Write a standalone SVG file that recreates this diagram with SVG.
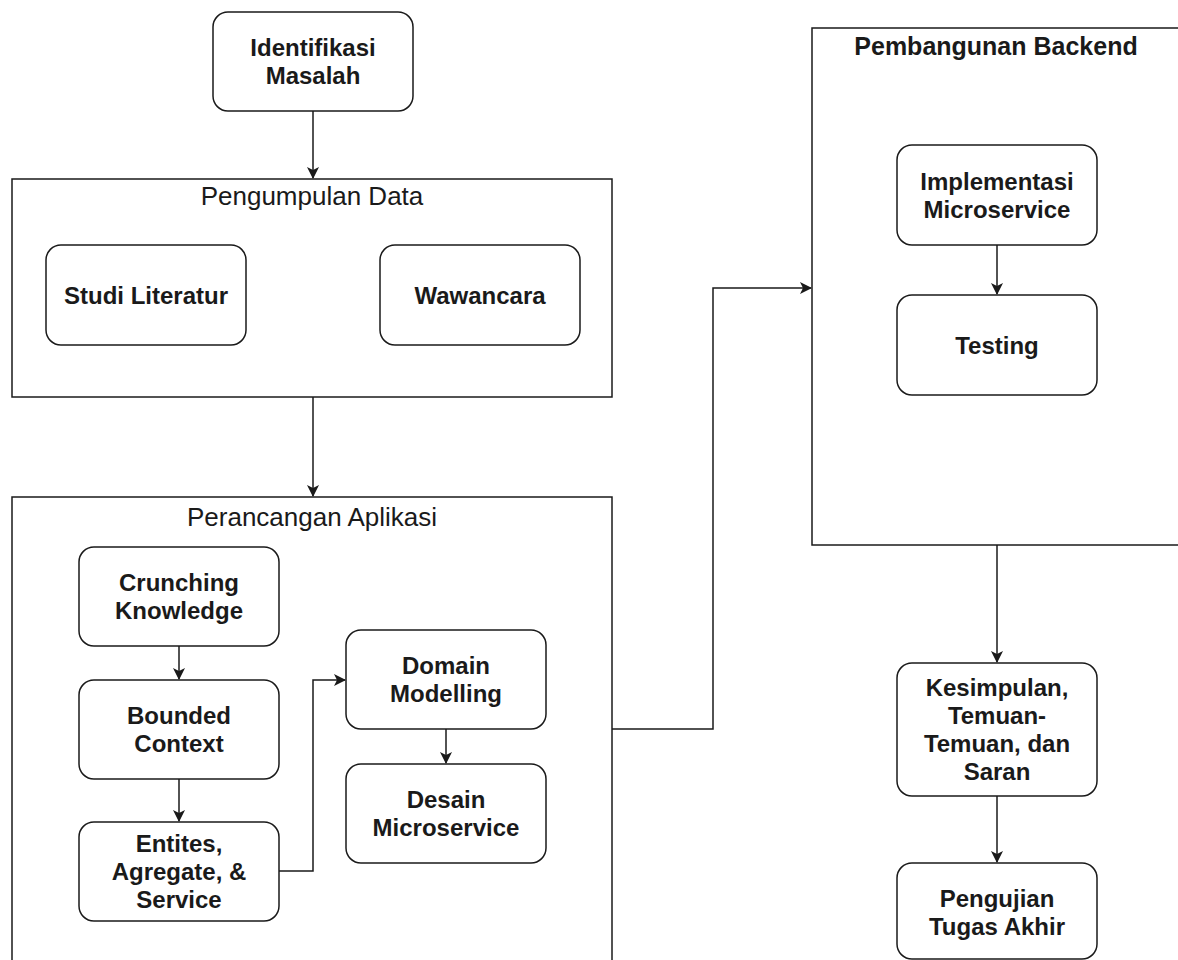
<svg xmlns="http://www.w3.org/2000/svg" width="1178" height="960" viewBox="0 0 1178 960">
<defs>
<style>
.box{fill:#fff;stroke:#1a1a1a;stroke-width:1.5}
.cont{fill:#fff;stroke:#1a1a1a;stroke-width:1.5}
.t{font-family:"Liberation Sans",Arial,sans-serif;font-size:24px;font-weight:bold;fill:#1a1a1a;text-anchor:middle}
.tt{font-family:"Liberation Sans",Arial,sans-serif;font-size:26px;fill:#1a1a1a;text-anchor:middle}
.tb{font-family:"Liberation Sans",Arial,sans-serif;font-size:25px;font-weight:bold;fill:#1a1a1a;text-anchor:middle}
.c{fill:none;stroke:#1a1a1a;stroke-width:1.5}
</style>
<marker id="arr" viewBox="0 0 12 12" refX="11" refY="6" markerWidth="12" markerHeight="12" markerUnits="userSpaceOnUse" orient="auto">
<path d="M0,0 L12,6 L0,12 L3,6 Z" fill="#1a1a1a"/>
</marker>
</defs>
<rect width="1178" height="960" fill="#fff"/>

<g id="pengumpulan">
<rect class="cont" x="12" y="179" width="600" height="218"/>
<text class="tt" x="312" y="205">Pengumpulan Data</text>
</g>
<g id="perancangan">
<rect class="cont" x="12" y="497" width="600" height="480"/>
<text class="tt" x="312" y="526">Perancangan Aplikasi</text>
</g>
<g id="pembangunan">
<rect class="cont" x="812" y="28" width="380" height="517"/>
<text class="tb" x="996" y="55">Pembangunan Backend</text>
</g>

<g id="connectors">
<path class="c" d="M313,111 V178" marker-end="url(#arr)"/>
<path class="c" d="M313,397 V496" marker-end="url(#arr)"/>
<path class="c" d="M179,645 V679" marker-end="url(#arr)"/>
<path class="c" d="M179,779 V821" marker-end="url(#arr)"/>
<path class="c" d="M279,871 H313 V680 H345" marker-end="url(#arr)"/>
<path class="c" d="M446,729 V763" marker-end="url(#arr)"/>
<path class="c" d="M612,729 H713 V288 H811" marker-end="url(#arr)"/>
<path class="c" d="M997,245 V294" marker-end="url(#arr)"/>
<path class="c" d="M997,545 V662" marker-end="url(#arr)"/>
<path class="c" d="M997,796 V862" marker-end="url(#arr)"/>
</g>

<g id="identifikasi">
<rect class="box" x="213" y="12" width="200" height="99" rx="15"/>
<text class="t" x="313" y="56">Identifikasi</text>
<text class="t" x="313" y="84">Masalah</text>
</g>
<g id="studi">
<rect class="box" x="46" y="245" width="200" height="100" rx="15"/>
<text class="t" x="146" y="304">Studi Literatur</text>
</g>
<g id="wawancara">
<rect class="box" x="380" y="245" width="200" height="100" rx="15"/>
<text class="t" x="480" y="304">Wawancara</text>
</g>
<g id="crunching">
<rect class="box" x="79" y="547" width="200" height="99" rx="15"/>
<text class="t" x="179" y="591">Crunching</text>
<text class="t" x="179" y="619">Knowledge</text>
</g>
<g id="bounded">
<rect class="box" x="79" y="680" width="200" height="99" rx="15"/>
<text class="t" x="179" y="724">Bounded</text>
<text class="t" x="179" y="752">Context</text>
</g>
<g id="entites">
<rect class="box" x="79" y="822" width="200" height="99" rx="15"/>
<text class="t" x="179" y="852">Entites,</text>
<text class="t" x="179" y="880">Agregate, &amp;</text>
<text class="t" x="179" y="908">Service</text>
</g>
<g id="domain">
<rect class="box" x="346" y="630" width="200" height="99" rx="15"/>
<text class="t" x="446" y="674">Domain</text>
<text class="t" x="446" y="702">Modelling</text>
</g>
<g id="desain">
<rect class="box" x="346" y="764" width="200" height="99" rx="15"/>
<text class="t" x="446" y="808">Desain</text>
<text class="t" x="446" y="836">Microservice</text>
</g>
<g id="implementasi">
<rect class="box" x="897" y="145" width="200" height="100" rx="15"/>
<text class="t" x="997" y="190">Implementasi</text>
<text class="t" x="997" y="218">Microservice</text>
</g>
<g id="testing">
<rect class="box" x="897" y="295" width="200" height="100" rx="15"/>
<text class="t" x="997" y="354">Testing</text>
</g>
<g id="kesimpulan">
<rect class="box" x="897" y="663" width="200" height="133" rx="15"/>
<text class="t" x="997" y="696">Kesimpulan,</text>
<text class="t" x="997" y="724">Temuan-</text>
<text class="t" x="997" y="752">Temuan, dan</text>
<text class="t" x="997" y="780">Saran</text>
</g>
<g id="pengujian">
<rect class="box" x="897" y="863" width="200" height="96" rx="15"/>
<text class="t" x="997" y="907">Pengujian</text>
<text class="t" x="997" y="935">Tugas Akhir</text>
</g>
</svg>
